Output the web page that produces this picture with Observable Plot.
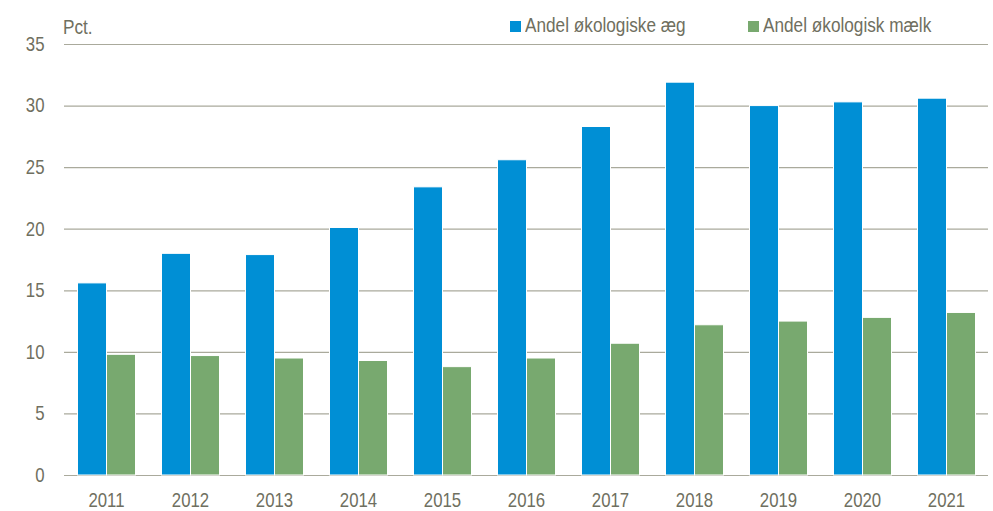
<!DOCTYPE html>
<html>
<head>
<meta charset="utf-8">
<script src="https://cdn.jsdelivr.net/npm/d3@7"></script>
<script src="https://cdn.jsdelivr.net/npm/@observablehq/plot@0.6"></script>
<style>
  html, body { margin: 0; padding: 0; background: #fff; }
  #wrap { position: relative; width: 993px; height: 511px; font-family: "Liberation Sans Narrow", "Arial Narrow", "Liberation Sans", sans-serif; color: #6f6f60; }
  .lbl { position: absolute; font-size: 20px; line-height: 1; white-space: nowrap; transform: scaleX(0.86); transform-origin: left center; }
  .sw { position: absolute; width: 11px; height: 11px; }
</style>
</head>
<body>
<div id="wrap"></div>
<script>
const years = [2011, 2012, 2013, 2014, 2015, 2016, 2017, 2018, 2019, 2020, 2021];
const eggShare = [15.6, 18.0, 17.9, 20.1, 23.4, 25.6, 28.3, 31.9, 30.0, 30.3, 30.6];
const milkShare = [9.8, 9.7, 9.5, 9.3, 8.8, 9.5, 10.7, 12.2, 12.5, 12.8, 13.2];
const seriesNames = ["Andel økologiske æg", "Andel økologisk mælk"];
const seriesColors = ["#008fd5", "#78a96f"];
const yTicks = [0, 5, 10, 15, 20, 25, 30, 35];
const yUnit = "Pct.";

const data = years.flatMap((yr, i) => [
  {year: yr, series: seriesNames[0], value: eggShare[i]},
  {year: yr, series: seriesNames[1], value: milkShare[i]}
]);

const font = '"Liberation Sans Narrow", "Arial Narrow", "Liberation Sans", sans-serif';

const chart = Plot.plot({
  width: 993,
  height: 511,
  marginTop: 44,
  marginBottom: 36,
  marginLeft: 63.5,
  marginRight: 5.5,
  style: {fontFamily: font, fontSize: "20px", color: "#6f6f60", background: "transparent", overflow: "visible"},
  facet: {data, x: "year"},
  fx: {domain: years, paddingInner: 0, paddingOuter: 0, label: null, tickSize: 0, tickPadding: 17, tickFormat: d => `${d}`},
  x: {domain: seriesNames, paddingInner: 0, paddingOuter: 0.4237, axis: null},
  y: {domain: [0, 35], ticks: yTicks, tickSize: 0, tickPadding: 20, label: null},
  color: {domain: seriesNames, range: seriesColors},
  marks: [
    Plot.ruleY(yTicks, {stroke: "#aaaa9c", strokeWidth: 1.2}),
    Plot.barY(data, {x: "series", y: "value", fill: "series", stroke: "white", strokeWidth: 1})
  ]
});

const wrap = document.getElementById("wrap");
wrap.appendChild(chart);
chart.style.position = "absolute";
chart.style.left = "0";
chart.style.top = "0";

// Condense axis text horizontally (about its anchor) to mimic a narrow typeface
chart.querySelectorAll("text").forEach(t => {
  const x0 = parseFloat(t.getAttribute("x")) || 0;
  const old = t.getAttribute("transform") || "";
  t.setAttribute("transform", `${old} translate(${x0},0) scale(0.84,1) translate(${-x0},0)`);
});

// Unit label
const unit = document.createElement("div");
unit.className = "lbl";
unit.textContent = yUnit;
unit.style.left = "63px";
unit.style.top = "17px";
wrap.appendChild(unit);

// Legend
const legendPos = [{sw: 510, tx: 525}, {sw: 748, tx: 763}];
seriesNames.forEach((name, i) => {
  const sw = document.createElement("div");
  sw.className = "sw";
  sw.style.background = seriesColors[i];
  sw.style.left = legendPos[i].sw + "px";
  sw.style.top = "21px";
  wrap.appendChild(sw);
  const t = document.createElement("div");
  t.className = "lbl";
  t.textContent = name;
  t.style.left = legendPos[i].tx + "px";
  t.style.top = "15px";
  wrap.appendChild(t);
});
</script>
</body>
</html>
